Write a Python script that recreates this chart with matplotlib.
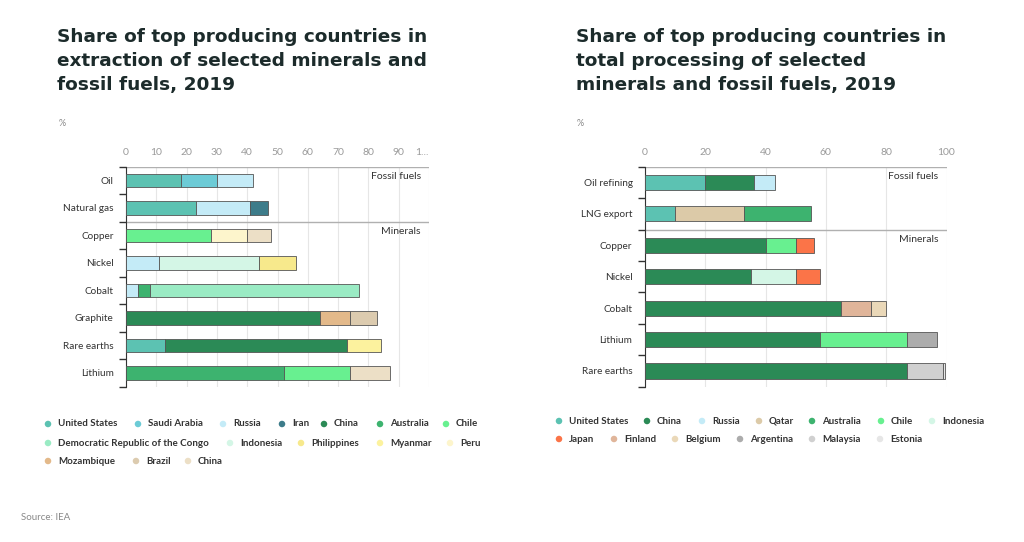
import numpy as np
import matplotlib
matplotlib.use('agg')
import matplotlib.pyplot as plt

plt.rcParams['font.family'] = ['Lato', 'DejaVu Sans']

# left panel: extraction
left_categories = ["Oil", "Natural gas", "Copper", "Nickel", "Cobalt",
                   "Graphite", "Rare earths", "Lithium"]
left_names = ["United States", "Saudi Arabia", "Russia", "Iran", "China",
              "Australia", "Chile", "Democratic Republic of the Congo",
              "Indonesia", "Philippines", "Myanmar", "Peru", "Mozambique",
              "Brazil", "China"]
left_colors = ["#5cc2b2", "#6ccbd6", "#c4ebf7", "#3d7c8a", "#2b8a56",
               "#3db36f", "#68f090", "#9aebc4", "#d4f6e6", "#f7e98c",
               "#fcf29e", "#fdf5cc", "#e3b98a", "#dccbaf", "#ecdfc6"]
left_index = [[0, 1, 2], [0, 2, 3], [6, 11, 14], [2, 8, 9], [2, 5, 7],
              [4, 12, 13], [0, 4, 10], [5, 6, 14]]
left_values = [[18, 12, 12], [23, 18, 6], [28, 12, 8], [11, 33, 12],
               [4, 4, 69], [64, 10, 9], [13, 60, 11], [52, 22, 13]]

# right panel: processing
right_categories = ["Oil refining", "LNG export", "Copper", "Nickel",
                    "Cobalt", "Lithium", "Rare earths"]
right_names = ["United States", "China", "Russia", "Qatar", "Australia",
               "Chile", "Indonesia", "Japan", "Finland", "Belgium",
               "Argentina", "Malaysia", "Estonia"]
right_colors = ["#5cc2b2", "#2b8a56", "#c4ebf7", "#dccaa8", "#3db36f",
                "#68f090", "#d4f6e6", "#fb7448", "#e0b59a", "#ead8b8",
                "#acacac", "#d0d0d0", "#e6e6e6"]
right_index = [[0, 1, 2], [0, 3, 4], [1, 5, 7], [1, 6, 7], [1, 8, 9],
               [1, 5, 10], [1, 11, 12]]
right_values = [[20, 16, 7], [10, 23, 22], [40, 10, 6], [35, 15, 8],
                [65, 10, 5], [58, 29, 10], [87, 12, 0.6]]

# legend layout in pixels (x of marker, y of row)
left_leg_pos = [(48, 424), (138, 424), (223, 424), (282, 424), (324, 424),
                (380, 424), (446, 424), (48, 443), (230, 443), (301, 443),
                (380, 443), (450, 443), (48, 461), (136, 461), (188, 461)]
right_leg_pos = [(559, 421), (647, 421), (702, 421), (759, 421), (812, 421),
                 (881, 421), (932, 421), (559, 439), (614, 439), (675, 439),
                 (740, 439), (812, 439), (880, 439)]

W, H = 1024, 542
fig = plt.figure(figsize=(W / 100, H / 100), dpi=100)


def draw_panel(rect, cats, idx, vals, colors, n_fossil, ticks, ticklabels):
    ax = fig.add_axes(rect)
    vals = np.array(vals, dtype=float)
    idx = np.array(idx)
    y = np.arange(len(cats))
    left = np.zeros(len(cats))
    for k in range(vals.shape[1]):
        ax.barh(y, vals[:, k], left=left, height=0.48,
                color=[colors[i] for i in idx[:, k]],
                edgecolor='#555555', linewidth=0.6, zorder=3)
        left += vals[:, k]
    ax.set_xlim(0, 100)
    ax.set_ylim(len(cats) - 0.5, -0.5)
    ax.xaxis.tick_top()
    ax.set_xticks(ticks)
    ax.set_xticklabels(ticklabels)
    ax.tick_params(axis='x', length=0, pad=7, labelsize=7.5,
                   labelcolor='#9a9a9a')
    ax.set_yticks(np.arange(-0.5, len(cats)))
    ax.set_yticklabels([])
    ax.set_yticks(y, minor=True)
    ax.set_yticklabels(cats, minor=True)
    ax.tick_params(axis='y', which='major', length=5, width=1, color='#333333')
    ax.tick_params(axis='y', which='minor', length=0, pad=9, labelsize=7.2,
                   labelcolor='#333333')
    for s in ['top', 'right', 'bottom']:
        ax.spines[s].set_visible(False)
    ax.spines['left'].set_color('#333333')
    ax.grid(axis='x', color='#e6e6e6', linewidth=0.8, zorder=0)
    ax.axhline(-0.5, color='#b0b0b0', linewidth=1, zorder=2)
    ax.axhline(n_fossil - 0.5, color='#b0b0b0', linewidth=1, zorder=2)
    ax.annotate("Fossil fuels", xy=(100, -0.5), xytext=(-6, -4),
                textcoords='offset points', ha='right', va='top',
                fontsize=7.5, color='#333333')
    ax.annotate("Minerals", xy=(100, n_fossil - 0.5), xytext=(-6, -4),
                textcoords='offset points', ha='right', va='top',
                fontsize=7.5, color='#333333')
    return ax


axl = draw_panel([126 / W, 1 - 386.7 / H, 303 / W, 220 / H], left_categories,
                 left_index, left_values, left_colors, 2,
                 np.arange(0, 101, 10),
                 [str(v) for v in range(0, 100, 10)] + ["1..."])
axl.get_xticklabels()[-1].set_ha('right')
axr = draw_panel([645 / W, 1 - 386.7 / H, 301.5 / W, 220 / H], right_categories,
                 right_index, right_values, right_colors, 2,
                 np.arange(0, 101, 20), [str(v) for v in range(0, 101, 20)])

# titles
title_l = ["Share of top producing countries in",
           "extraction of selected minerals and",
           "fossil fuels, 2019"]
title_r = ["Share of top producing countries in",
           "total processing of selected",
           "minerals and fossil fuels, 2019"]
for x0, lines in [(57, title_l), (576, title_r)]:
    for i, line in enumerate(lines):
        fig.text(x0 / W, 1 - (37 + 24 * i) / H, line, fontsize=13.3,
                 weight='bold', color='#1c2b2b', va='center',
                 family='DejaVu Sans')

fig.text(59 / W, 1 - 124 / H, "%", fontsize=6.5, color='#888888', va='center')
fig.text(577 / W, 1 - 124 / H, "%", fontsize=6.5, color='#888888', va='center')

# legends
leg = fig.add_axes([0, 0, 1, 1], zorder=-1)
leg.set_xlim(0, W)
leg.set_ylim(H, 0)
leg.axis('off')
for names, colors, pos in [(left_names, left_colors, left_leg_pos),
                           (right_names, right_colors, right_leg_pos)]:
    for name, c, (px, py) in zip(names, colors, pos):
        leg.scatter(px, py, s=22, color=c, edgecolors='none')
        leg.text(px + 10, py, name, fontsize=7, weight='bold',
                 color='#333333', va='center')

fig.text(21 / W, 1 - 517 / H, "Source: IEA", fontsize=7, color='#888888',
         va='center')

fig.savefig('out.png', dpi=100, facecolor='white')
